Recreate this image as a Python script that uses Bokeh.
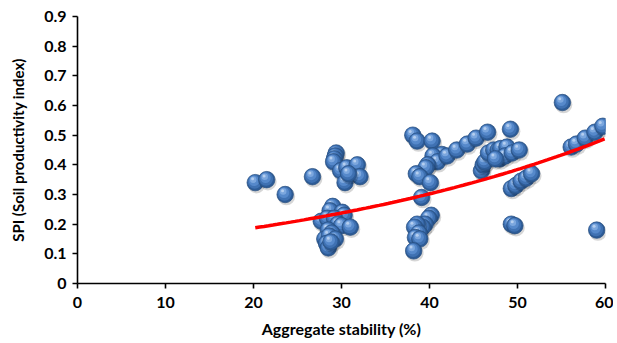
import numpy as np
from bokeh.plotting import figure
from bokeh.models import ColumnDataSource, Range1d, FixedTicker
from bokeh.embed import file_html
from bokeh.resources import INLINE

# ---- data ----
agg_stability = [
    20.2, 21.5, 23.6, 26.7,
    29.4, 29.3, 29.2, 29.1, 29.9, 30.6, 31.8, 32.1, 30.4, 30.8,
    29.0, 28.7, 30.1, 30.3, 27.7, 28.4, 29.2, 29.6, 30.0, 31.0, 28.5, 28.9, 28.1, 28.6, 28.3, 28.5, 29.3, 28.8,
    38.1, 38.6, 40.3, 41.4, 40.4, 40.9, 39.8, 39.6, 38.5, 38.9, 40.1, 39.1,
    40.2, 39.9, 39.5, 39.2, 38.6, 38.3, 38.8, 38.4, 38.9, 38.2,
    42.0, 43.1, 44.3, 45.3, 46.6,
    45.9, 46.1, 46.3, 46.7, 47.3, 47.8, 48.1, 48.8, 48.0, 48.6, 49.4, 50.2, 49.2, 47.5,
    49.3, 49.8, 50.4, 51.0, 51.6, 49.3, 49.7,
    55.1, 56.1, 56.7, 57.7, 58.8, 59.7, 59.0,
]
spi = [
    0.34, 0.35, 0.30, 0.36,
    0.44, 0.43, 0.42, 0.41, 0.38, 0.39, 0.40, 0.36, 0.34, 0.37,
    0.26, 0.245, 0.24, 0.23, 0.21, 0.22, 0.22, 0.20, 0.195, 0.19, 0.18, 0.17, 0.15, 0.16, 0.135, 0.12, 0.15, 0.14,
    0.50, 0.48, 0.48, 0.435, 0.43, 0.41, 0.40, 0.39, 0.37, 0.36, 0.34, 0.29,
    0.23, 0.22, 0.20, 0.19, 0.20, 0.19, 0.17, 0.155, 0.15, 0.11,
    0.43, 0.45, 0.47, 0.49, 0.51,
    0.38, 0.40, 0.41, 0.44, 0.45, 0.45, 0.455, 0.46, 0.42, 0.43, 0.44, 0.45, 0.52, 0.42,
    0.32, 0.33, 0.345, 0.355, 0.37, 0.20, 0.195,
    0.61, 0.46, 0.47, 0.49, 0.51, 0.53, 0.18,
]
# exponential trend line y = a * exp(b x)
trend_a = 0.1157
trend_b = 0.024
trend_x_start = 20.2
trend_x_end = 59.9

x_ticks = [0, 10, 20, 30, 40, 50, 60]
y_ticks = [0, 0.1, 0.2, 0.3, 0.4, 0.5, 0.6, 0.7, 0.8, 0.9]

# ---- layout ----
W, H = 613, 340
ML, MR, MT, MB = 77, 8, 16, 56
frame_w = W - ML - MR
frame_h = H - MT - MB
X0, X1, Y0, Y1 = 0, 60, 0, 0.9
px_x = (X1 - X0) / frame_w
px_y = (Y1 - Y0) / frame_h

FONT = "Lato"

p = figure(width=W, height=H, output_backend="svg", toolbar_location=None,
           x_range=Range1d(X0, X1), y_range=Range1d(Y0, Y1),
           min_border_left=ML, min_border_right=MR, min_border_top=MT,
           min_border_bottom=MB)
p.outline_line_color = None
p.grid.visible = False
p.background_fill_color = "white"
p.border_fill_color = "white"

# sphere-like markers: layers drawn per point in order
layers = [
    # (dx px, dy px, size, color, alpha, line_color, line_alpha)
    (1.2, -2.0, 17.5, "#000000", 0.16, None, 0.0),
    (0.0, 0.0, 16.5, "#2d5b96", 1.0, "#284f80", 0.9),
    (-0.6, 0.8, 14, "#3f71b2", 1.0, None, 0.0),
    (-1.2, 1.8, 10.5, "#5689cb", 1.0, None, 0.0),
    (-2.0, 3.0, 6.5, "#82ade2", 0.85, None, 0.0),
    (-2.6, 3.8, 3, "#c3d8f3", 0.8, None, 0.0),
]
xs, ys, sz, fc, fa, lc, la = [], [], [], [], [], [], []
for xv, yv in zip(agg_stability, spi):
    for dx, dy, s, c, a, l, lal in layers:
        xs.append(xv + dx * px_x)
        ys.append(yv + dy * px_y)
        sz.append(s)
        fc.append(c)
        fa.append(a)
        lc.append(l if l else c)
        la.append(lal)
src = ColumnDataSource(dict(x=xs, y=ys, size=sz, fc=fc, fa=fa, lc=lc, la=la))
p.scatter("x", "y", source=src, size="size", fill_color="fc", fill_alpha="fa",
          line_color="lc", line_alpha="la", line_width=0.8)

tx = np.linspace(trend_x_start, trend_x_end, 80)
ty = trend_a * np.exp(trend_b * tx)
p.line(tx, ty, line_color="#ff0000", line_width=3.5)

for ax in (p.xaxis[0], p.yaxis[0]):
    ax.axis_line_color = "black"
    ax.axis_line_width = 1.6
    ax.major_tick_line_color = "black"
    ax.major_tick_line_width = 1.6
    ax.major_tick_in = 0
    ax.major_tick_out = 5
    ax.minor_tick_line_color = None
    ax.major_label_text_font = FONT
    ax.major_label_text_font_style = "bold"
    ax.major_label_text_font_size = "16px"
    ax.major_label_text_color = "black"
    ax.axis_label_text_font = FONT
    ax.axis_label_text_font_style = "bold"
    ax.axis_label_text_color = "black"

p.xaxis[0].axis_label_text_font_size = "16px"
p.yaxis[0].axis_label_text_font_size = "15px"
p.xaxis[0].ticker = FixedTicker(ticks=x_ticks)
p.yaxis[0].ticker = FixedTicker(ticks=y_ticks)
p.xaxis[0].major_label_overrides = {t: str(t) for t in x_ticks}
p.yaxis[0].major_label_overrides = {t: ("0" if t == 0 else f"{t:.1f}") for t in y_ticks}
p.xaxis[0].axis_label = "Aggregate stability (%)"
p.yaxis[0].axis_label = "SPI (Soil productivity index)"
p.xaxis[0].major_label_standoff = 8
p.yaxis[0].major_label_standoff = 6
p.xaxis[0].axis_label_standoff = 8
p.yaxis[0].axis_label_standoff = 14

open("out.html", "w").write(file_html(p, INLINE))
